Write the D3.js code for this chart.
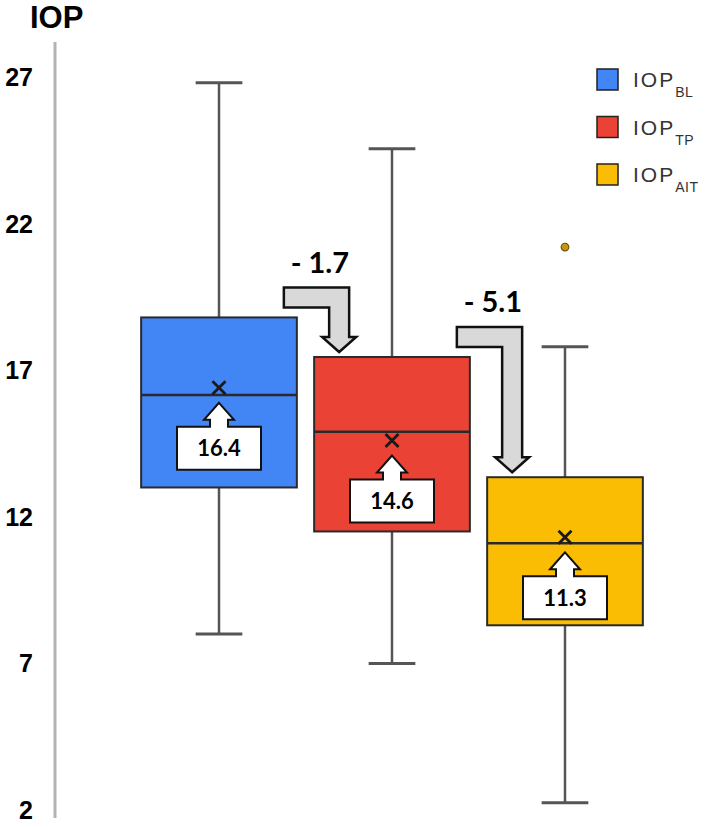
<!DOCTYPE html>
<html>
<head>
<meta charset="utf-8">
<script src="https://cdn.jsdelivr.net/npm/d3@7"></script>
<style>
  body { margin: 0; background: #fff; }
</style>
</head>
<body>
<svg id="chart"></svg>
<script>
// box plot stats
const groups = ["BL", "TP", "AIT"];
const colors = ["#4285f4", "#ea4335", "#fbbc04"];
const mins = [8.0, 7.0, 2.25];
const q1s = [13.0, 11.5, 8.3];
const medians = [16.15, 14.9, 11.1];
const q3s = [18.8, 17.45, 13.35];
const maxs = [26.8, 24.55, 17.8];
const means = [16.4, 14.6, 11.3];
const outliers = [[], [], [21.2]];
const diffLabels = ["- 1.7", "- 5.1"];
const yTicks = [2, 7, 12, 17, 22, 27];

const width = 707, height = 827;

const svg = d3.select("#chart")
    .attr("width", width)
    .attr("height", height);

const y = d3.scaleLinear().domain([2, 27]).range([810, 77]);
const x = d3.scaleBand().domain(groups).range([132.5, 651.5])
    .paddingInner(0.1).paddingOuter(0.05);

const data = groups.map((g, i) => ({
    g, color: colors[i], min: mins[i], q1: q1s[i], med: medians[i],
    q3: q3s[i], max: maxs[i], mean: means[i], out: outliers[i]
}));

// y axis: plain gray line + bold labels
svg.append("line")
    .attr("x1", 55).attr("x2", 55)
    .attr("y1", 42).attr("y2", 818)
    .attr("stroke", "#b3b3b3").attr("stroke-width", 3);

svg.selectAll(".ytick")
    .data(yTicks)
    .join("text")
    .attr("class", "ytick")
    .attr("x", 33)
    .attr("y", d => y(d))
    .attr("dy", "0.36em")
    .attr("text-anchor", "end")
    .style("font", "bold 25px 'Liberation Sans', Arial, sans-serif")
    .text(d => d);

svg.append("text")
    .attr("x", 30).attr("y", 28)
    .style("font", "bold 31px 'Liberation Sans', Arial, sans-serif")
    .text("IOP");

const bw = x.bandwidth();
const capW = bw * 0.3;

const box = svg.selectAll(".box")
    .data(data)
    .join("g")
    .attr("class", "box")
    .attr("transform", d => `translate(${x(d.g) + bw / 2},0)`);

// whiskers
box.append("line")
    .attr("y1", d => y(d.max)).attr("y2", d => y(d.q3))
    .attr("stroke", "#555").attr("stroke-width", 2.5);
box.append("line")
    .attr("y1", d => y(d.q1)).attr("y2", d => y(d.min))
    .attr("stroke", "#555").attr("stroke-width", 2.5);
box.append("line")
    .attr("x1", -capW / 2).attr("x2", capW / 2)
    .attr("y1", d => y(d.max)).attr("y2", d => y(d.max))
    .attr("stroke", "#555").attr("stroke-width", 3);
box.append("line")
    .attr("x1", -capW / 2).attr("x2", capW / 2)
    .attr("y1", d => y(d.min)).attr("y2", d => y(d.min))
    .attr("stroke", "#555").attr("stroke-width", 3);

// box
box.append("rect")
    .attr("x", -bw / 2).attr("width", bw)
    .attr("y", d => y(d.q3))
    .attr("height", d => y(d.q1) - y(d.q3))
    .attr("fill", d => d.color)
    .attr("stroke", "#2a2a2a").attr("stroke-width", 2);

// median
box.append("line")
    .attr("x1", -bw / 2).attr("x2", bw / 2)
    .attr("y1", d => y(d.med)).attr("y2", d => y(d.med))
    .attr("stroke", "#2a2a2a").attr("stroke-width", 2.5);

// mean cross
const cs = 6.5;
box.append("path")
    .attr("d", d => {
        const m = y(d.mean);
        return `M${-cs},${m - cs}L${cs},${m + cs}M${cs},${m - cs}L${-cs},${m + cs}`;
    })
    .attr("stroke", "#1a1a1a").attr("stroke-width", 2.8);

// outliers
box.selectAll(".out")
    .data(d => d.out.map(v => ({ v, color: d.color })))
    .join("circle")
    .attr("class", "out")
    .attr("cy", d => y(d.v))
    .attr("r", 3.8)
    .attr("fill", "#c8960a")
    .attr("stroke", "#6b5410").attr("stroke-width", 1.2);

// mean callouts (up arrow + label box)
const callW = 42, callH = 43;
box.append("path")
    .attr("d", d => {
        const t = y(d.mean) + 15, hb = t + 17, bt = t + 24;
        return `M0,${t}L15,${hb}L9,${hb}L9,${bt}L${callW},${bt}L${callW},${bt + callH}` +
            `L${-callW},${bt + callH}L${-callW},${bt}L-9,${bt}L-9,${hb}L-15,${hb}Z`;
    })
    .attr("fill", "#fff")
    .attr("stroke", "#111").attr("stroke-width", 2);

box.append("text")
    .attr("y", d => y(d.mean) + 39 + callH / 2)
    .attr("dy", "0.36em")
    .attr("text-anchor", "middle")
    .style("font", "bold 22px Lato, 'Open Sans', sans-serif")
    .text(d => d.mean.toFixed(1));

// bent gray arrows between boxes
const pairs = d3.pairs(data);
const th = 20;
pairs.forEach(([a, b], i) => {
    const armL = x(a.g) + bw - 13;
    const armTop = y(a.q3) - 30;
    const cx = x(b.g) + 25;
    const tip = y(b.q3) - 5;
    const hb = tip - 15;
    const p = `M${armL},${armTop}L${cx + th / 2},${armTop}L${cx + th / 2},${hb}` +
        `L${cx + 17},${hb}L${cx},${tip}L${cx - 17},${hb}L${cx - th / 2},${hb}` +
        `L${cx - th / 2},${armTop + th}L${armL},${armTop + th}Z`;
    svg.append("path")
        .attr("d", p)
        .attr("fill", "#d9d9d9")
        .attr("stroke", "#111").attr("stroke-width", 2.5)
        .attr("stroke-linejoin", "miter");
    svg.append("text")
        .attr("x", armL + 36)
        .attr("y", armTop - 25)
        .attr("dy", "0.36em")
        .attr("text-anchor", "middle")
        .style("font", "bold 29px Lato, 'Open Sans', sans-serif")
        .text(diffLabels[i]);
});

// legend
const legend = svg.selectAll(".legend")
    .data(data)
    .join("g")
    .attr("class", "legend")
    .attr("transform", (d, i) => `translate(597,${69 + i * 47.5})`);

legend.append("rect")
    .attr("width", 21).attr("height", 21)
    .attr("fill", d => d.color)
    .attr("stroke", "#222").attr("stroke-width", 1.5);

const lt = legend.append("text")
    .attr("x", 36).attr("y", 18)
    .style("font", "21px 'Liberation Sans', Arial, sans-serif")
    .style("letter-spacing", "2px")
    .style("fill", "#333");
lt.append("tspan").text("IOP");
lt.append("tspan")
    .attr("dy", 10)
    .style("font-size", "14px")
    .style("letter-spacing", "0.5px")
    .text(d => d.g);
</script>
</body>
</html>
